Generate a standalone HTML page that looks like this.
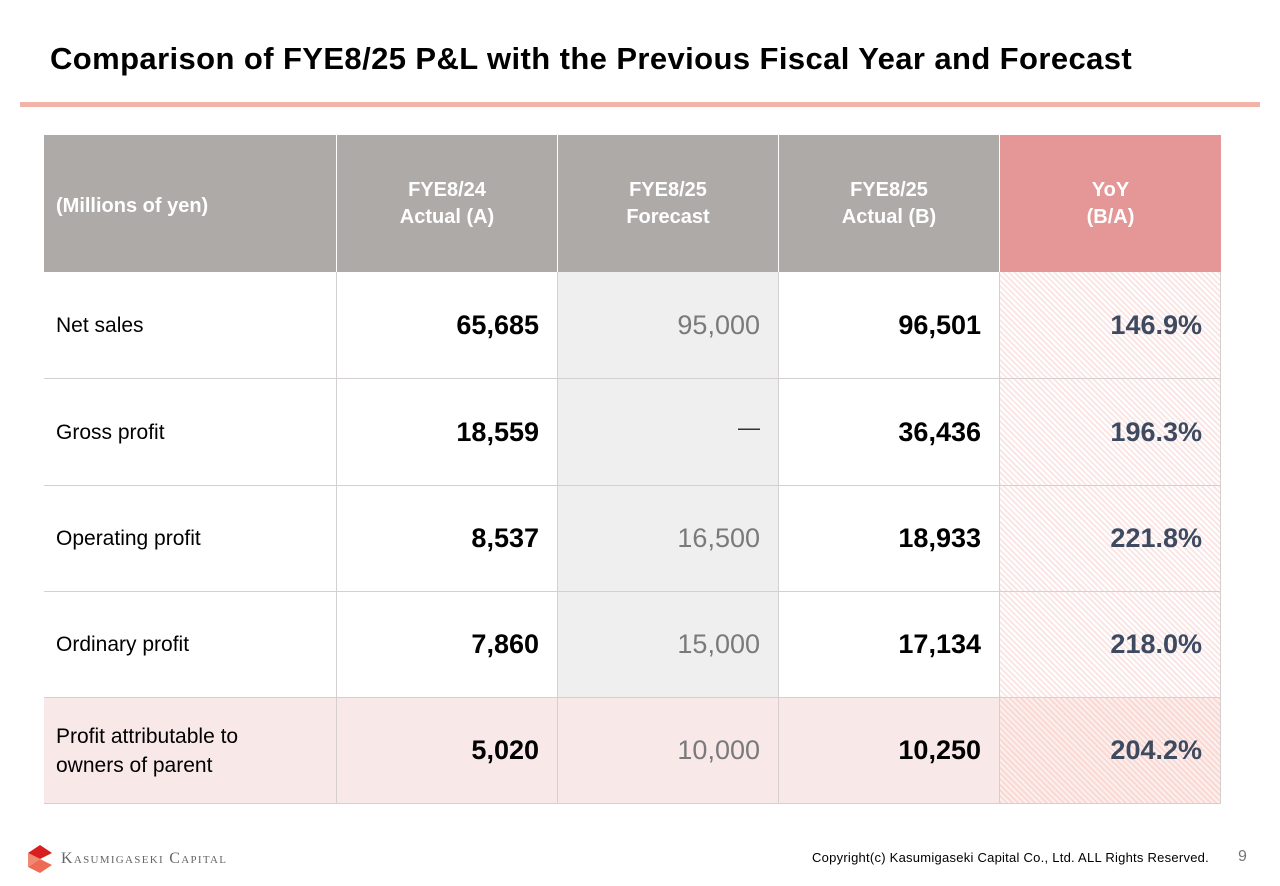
<!DOCTYPE html>
<html><head><meta charset="utf-8"><style>
body{margin:0;width:1280px;height:886px;background:#fff;font-family:"Liberation Sans",sans-serif;position:relative;overflow:hidden}
.a{position:absolute;box-sizing:border-box}
.title{left:50px;top:41px;font-size:31px;font-weight:bold;color:#000;letter-spacing:0.4px}
.rule{left:20px;top:102px;width:1240px;height:5px;background:#f2b3a8}
.h{background:#aeaaa8;color:#fff;font-weight:bold;font-size:20px;display:flex;align-items:center;justify-content:center;text-align:center;line-height:27px}
.hy{background:#e49796}
.c{border-bottom:1px solid #d4d0d0;border-right:1px solid #d4d0d0;display:flex;align-items:center;justify-content:flex-end;padding-right:18px;font-size:27px}
.lab{justify-content:flex-start;padding-left:12px;font-size:21px;line-height:29px}
.b{font-weight:bold;color:#000}
.f{background:#efefef;color:#7a7a7a}
.y{background:repeating-linear-gradient(45deg,#fbe6e6 0 2px,#fff 2px 4px);color:#3e4a60;font-weight:bold}
.pk{background:#f9e8e8}
.pky{background:repeating-linear-gradient(45deg,#f9d9d4 0 2px,#fcefed 2px 4px);color:#3e4a60;font-weight:bold}
</style></head><body>
<div class="a title">Comparison of FYE8/25 P&amp;L with the Previous Fiscal Year and Forecast</div>
<div class="a rule"></div>
<div id="tbl"></div>
<div class="a" style="left:28px;top:845px">
<svg width="26" height="28" viewBox="0 0 26 28"><polygon points="0,8 12,0 24,8 12,14" fill="#d81e1e"/><polygon points="0,8 12,14 0,22" fill="#f08a70"/><polygon points="12,14 24,20 12,28 0,22" fill="#ee6b55"/></svg></div>
<div class="a" style="left:61px;top:850px;font-family:'Liberation Serif',serif;font-size:16px;color:#666;letter-spacing:1.3px;font-variant:small-caps">Kasumigaseki Capital</div>
<div class="a" style="left:812px;top:850px;font-size:13px;letter-spacing:0.25px;color:#000">Copyright(c) Kasumigaseki Capital Co., Ltd. ALL Rights Reserved.</div>
<div class="a" style="left:1238px;top:848px;font-size:16px;color:#777">9</div>
<script>
const headers=["(Millions of yen)","FYE8/24<br>Actual (A)","FYE8/25<br>Forecast","FYE8/25<br>Actual (B)","YoY<br>(B/A)"];
const rowLabels=["Net sales","Gross profit","Operating profit","Ordinary profit","Profit attributable to<br>owners of parent"];
const actualA=["65,685","18,559","8,537","7,860","5,020"];
const forecast=["95,000","—","16,500","15,000","10,000"];
const actualB=["96,501","36,436","18,933","17,134","10,250"];
const yoy=["146.9%","196.3%","221.8%","218.0%","204.2%"];
const colX=[44,337,558,779,1000,1221];
const rowY=[135,272,379,486,592,698,804];
const tbl=document.getElementById('tbl');
function cell(i,j,cls,html,name){
  const d=document.createElement('div');
  d.className='a '+cls;
  d.style.left=colX[j]+'px';d.style.top=rowY[i]+'px';
  d.style.width=(colX[j+1]-colX[j]-(i==0&&j<4?1:0))+'px';d.style.height=(rowY[i+1]-rowY[i])+'px';
  d.innerHTML=html;
  
  
  tbl.appendChild(d);
}
headers.forEach((h,j)=>cell(0,j,'h'+(j==4?' hy':'')+(j==0?' hl':''),h,'header-'+j));
document.querySelectorAll('.hl').forEach(e=>{e.style.justifyContent='flex-start';e.style.paddingLeft='12px';e.style.paddingTop='6px';});
rowLabels.forEach((l,r)=>{
  const i=r+1,last=r==4;
  cell(i,0,'c lab'+(last?' pk':''),l,'row-label-'+r);
  cell(i,1,'c b'+(last?' pk':''),actualA[r],'actual-a-'+r);
  cell(i,2,'c'+(last?' pk':' f'),forecast[r],'forecast-'+r);
  if(last)tbl.lastChild.style.color='#7a7a7a';
  if(forecast[r]=='—'){tbl.lastChild.style.alignItems='flex-start';tbl.lastChild.style.paddingTop='36px';tbl.lastChild.style.fontSize='22px';tbl.lastChild.style.color='#333';}
  cell(i,3,'c b'+(last?' pk':''),actualB[r],'actual-b-'+r);
  cell(i,4,'c '+(last?'pky':'y'),yoy[r],'yoy-'+r);
});
</script>
</body></html>
